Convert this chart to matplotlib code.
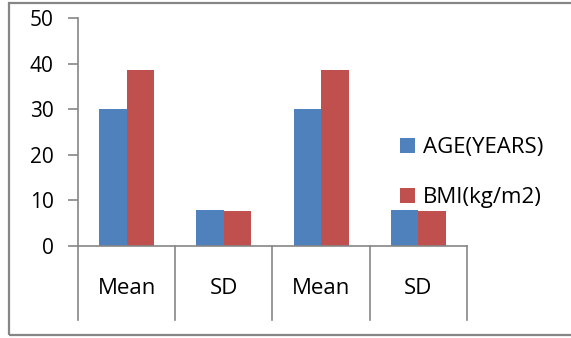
import matplotlib

matplotlib.use("Agg")
import matplotlib.pyplot as plt
from matplotlib.patches import Rectangle

categories = ["Mean", "SD", "Mean", "SD"]
series_names = ["AGE(YEARS)", "BMI(kg/m2)"]
age = [30.1, 7.9, 30.1, 7.9]
bmi = [38.6, 7.7, 38.6, 7.7]
y_ticks = [0, 10, 20, 30, 40, 50]

BLUE = "#4f81bd"
RED = "#c0504d"
GRAY = "#868686"

plt.rcParams["font.family"] = ["Open Sans", "DejaVu Sans"]

W, H = 571, 338
fig = plt.figure(figsize=(W / 100, H / 100), dpi=100)

# outer chart frame (right edge runs off the image)
fig.patches.append(
    Rectangle((9 / W, 3 / H), 1.0, (H - 6) / H, transform=fig.transFigure,
              fill=False, edgecolor=GRAY, linewidth=1.6)
)

ax = fig.add_axes([78 / W, (H - 246) / H, (467 - 78) / W, (246 - 18) / H])

bw = 0.283
xs = [i + 0.5 for i in range(len(categories))]
ax.bar([x - bw / 2 for x in xs], age, width=bw, color=BLUE, label=series_names[0])
ax.bar([x + bw / 2 for x in xs], bmi, width=bw, color=RED, label=series_names[1])

ax.set_xlim(0, len(categories))
ax.set_ylim(0, 50)
ax.set_yticks(y_ticks)
ax.tick_params(axis="y", length=7.5, width=1.2, color=GRAY, labelsize=15, pad=10)
ax.set_xticks([])

for side in ("top", "right"):
    ax.spines[side].set_visible(False)
for side in ("left", "bottom"):
    ax.spines[side].set_color(GRAY)
    ax.spines[side].set_linewidth(1.2)

# category dividers below the axis, and the labels between them
yscale = 50 / (246 - 18)
for i in range(len(categories) + 1):
    ax.plot([i, i], [0, -74 * yscale], color=GRAY, lw=1.2, clip_on=False)
for x, lab in zip(xs, categories):
    ax.text(x, -42 * yscale, lab, ha="center", va="center", fontsize=16)

fig.legend(loc="upper left", bbox_to_anchor=(389 / W, 1 - 126 / H),
           frameon=False, fontsize=16, handlelength=0.68, handleheight=0.68,
           handletextpad=0.36, labelspacing=1.32, borderpad=0)

fig.savefig("out.png", dpi=100)
